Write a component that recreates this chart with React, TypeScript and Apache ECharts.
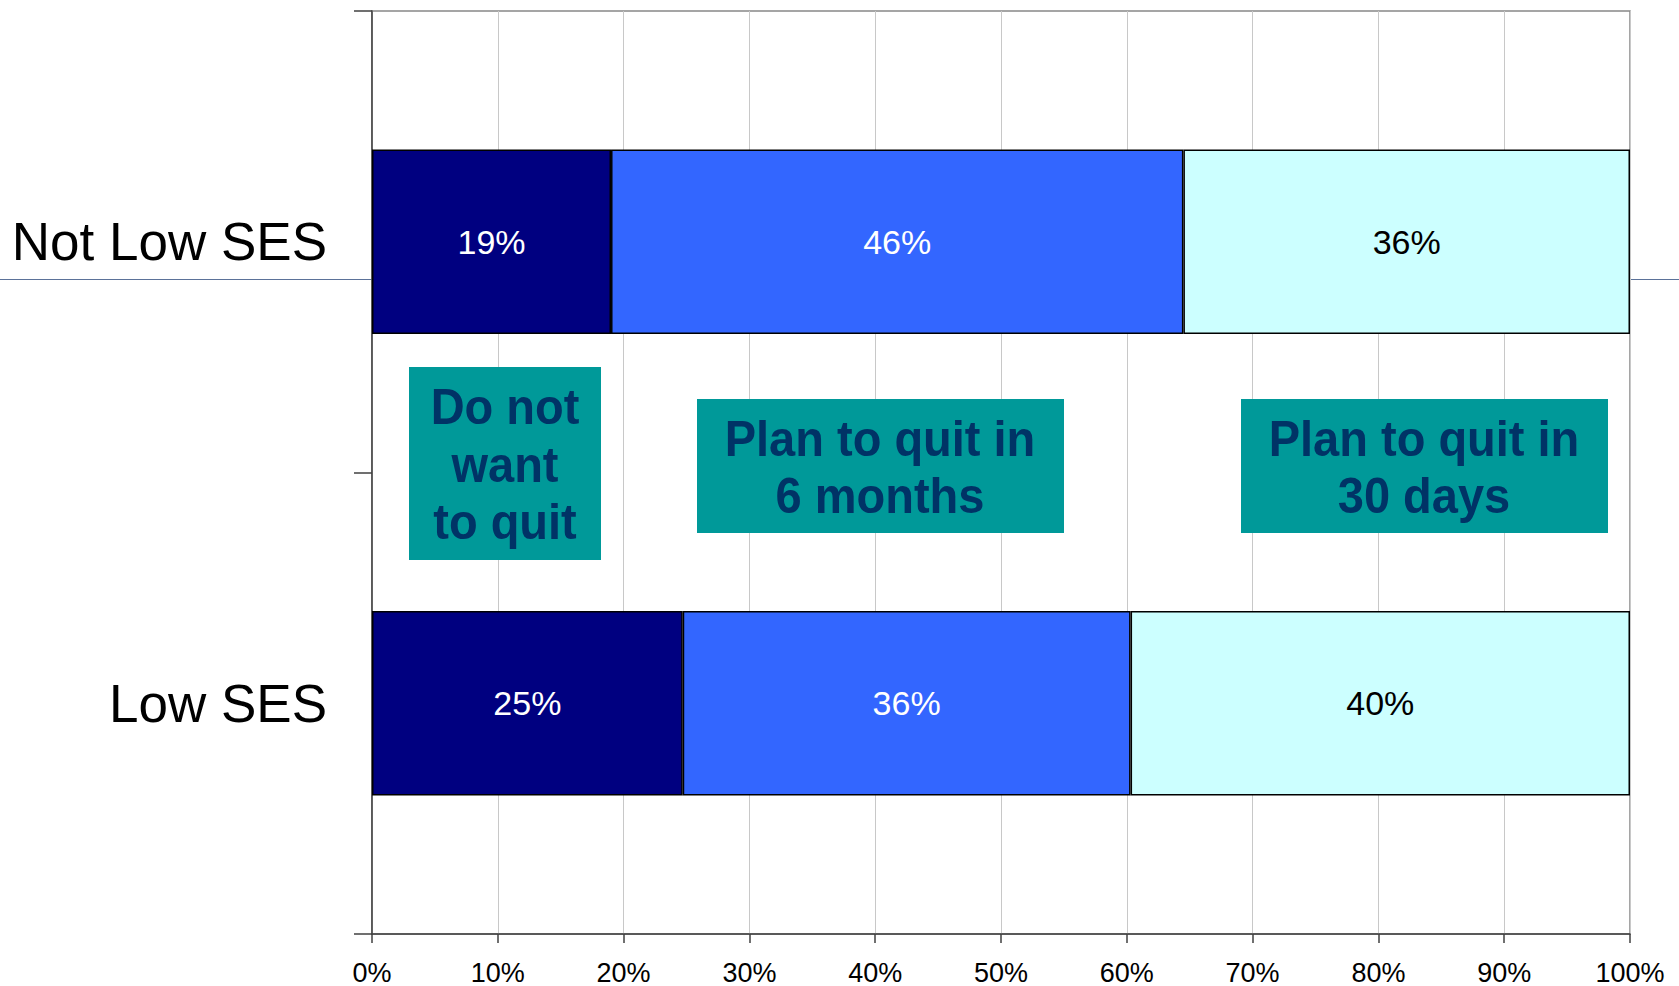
import React, { useEffect, useRef } from "react";
import * as echarts from "echarts";

// ---- data ----
const categories = ["Not Low SES", "Low SES"];
const seriesNames = ["Do not want to quit", "Plan to quit in 6 months", "Plan to quit in 30 days"];
const doNotWantToQuit = [19.0, 24.7];
const planSixMonths = [45.5, 35.6];
const planThirtyDays = [35.5, 39.7];
const xTickValues = [0, 10, 20, 30, 40, 50, 60, 70, 80, 90, 100];
const annotationTexts = ["Do not\nwant\nto quit", "Plan to quit in\n6 months", "Plan to quit in\n30 days"];

// ---- styles ----
const seriesColors = ["#000080", "#3366FF", "#CCFFFF"];
const labelColors = ["#FFFFFF", "#FFFFFF", "#000000"];
const FONT = "'Liberation Sans', Arial, Helvetica, sans-serif";

export default function App() {
  const ref = useRef<HTMLDivElement>(null);

  useEffect(() => {
    if (!ref.current) return;
    const chart = echarts.init(ref.current, undefined, { renderer: "svg" });
    const values = [doNotWantToQuit, planSixMonths, planThirtyDays];

    const boxes = [
      { x: 409, y: 367, w: 192, h: 193, cx: 505, cy: 464 },
      { x: 697, y: 399, w: 367, h: 134, cx: 880, cy: 467 },
      { x: 1241, y: 399, w: 367, h: 134, cx: 1424, cy: 467 },
    ];

    const graphic: any[] = [
      {
        type: "line",
        shape: { x1: 0, y1: 279.5, x2: 372, y2: 279.5 },
        style: { stroke: "#5b7299", lineWidth: 1.2 },
        z: 0,
      },
      {
        type: "line",
        shape: { x1: 1630, y1: 279.5, x2: 1679, y2: 279.5 },
        style: { stroke: "#5b7299", lineWidth: 1.2 },
        z: 0,
      },
    ];
    boxes.forEach((b, i) => {
      graphic.push({
        type: "rect",
        shape: { x: b.x, y: b.y, width: b.w, height: b.h },
        style: { fill: "#009999" },
        z: 100,
      });
      graphic.push({
        type: "text",
        x: b.cx,
        y: b.cy,
        scaleY: 1.07,
        style: {
          text: annotationTexts[i],
          fill: "#003366",
          fontFamily: FONT,
          fontWeight: "bold",
          fontSize: 47,
          lineHeight: 54,
          align: "center",
          verticalAlign: "middle",
        },
        z: 101,
      });
    });

    chart.setOption({
      animation: false,
      backgroundColor: "#ffffff",
      grid: {
        left: 372,
        right: 49,
        top: 11,
        bottom: 51,
        show: true,
        borderColor: "#888888",
        borderWidth: 1.5,
        backgroundColor: "transparent",
      },
      xAxis: {
        type: "value",
        min: 0,
        max: 100,
        interval: 10,
        axisLine: { show: true, lineStyle: { color: "#404040", width: 1.5 } },
        axisTick: { show: true, length: 9, lineStyle: { color: "#404040", width: 1.5 } },
        axisLabel: {
          formatter: (v: number) => (xTickValues.includes(v) ? `${v}%` : ""),
          color: "#000000",
          fontFamily: FONT,
          fontSize: 27,
          margin: 25,
        },
        splitLine: { show: true, lineStyle: { color: "#c8c8c8", width: 1 } },
      },
      yAxis: {
        type: "category",
        data: categories,
        inverse: true,
        axisLine: { show: true, lineStyle: { color: "#404040", width: 1.5 } },
        axisTick: { show: true, length: 18, lineStyle: { color: "#404040", width: 1.5 } },
        axisLabel: {
          color: "#000000",
          fontFamily: FONT,
          fontSize: 53,
          margin: 45,
        },
        splitLine: { show: false },
      },
      series: values.map((vals, i) => ({
        type: "bar",
        name: seriesNames[i],
        stack: "total",
        data: vals,
        barWidth: "40%",
        itemStyle: { color: seriesColors[i], borderColor: "#000000", borderWidth: 1.5 },
        label: {
          show: true,
          position: "inside",
          formatter: (p: any) => `${Math.round(p.value)}%`,
          color: labelColors[i],
          fontFamily: FONT,
          fontSize: 34,
          textBorderWidth: 0,
        },
      })),
      graphic,
    });

    return () => chart.dispose();
  }, []);

  return (
    <div
      ref={ref}
      style={{ position: "absolute", left: 0, top: 0, width: 1679, height: 986 }}
    />
  );
}
